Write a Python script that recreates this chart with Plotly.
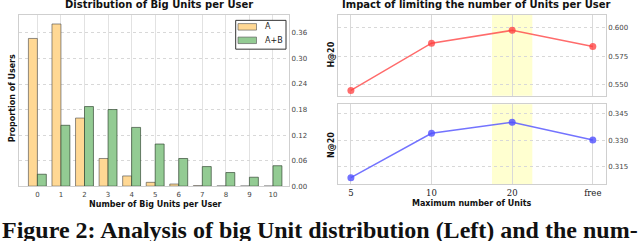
import plotly.graph_objects as go

# ---------------- data ----------------
units = list(range(11))
unit_labels = [str(u) for u in units]
prop_a = [0.347, 0.381, 0.160, 0.065, 0.024, 0.009, 0.005, 0.0012, 0.0005, 0.0003, 0.0002]
prop_ab = [0.028, 0.143, 0.187, 0.180, 0.138, 0.099, 0.065, 0.046, 0.032, 0.021, 0.048]
left_yticks = [0.0, 0.06, 0.12, 0.18, 0.24, 0.30, 0.36]
series_names = ["A", "A+B"]
series_colors = ["#ffd894", "#93cb93"]

limits = ["5", "10", "20", "free"]
h20 = [0.5448, 0.5863, 0.5976, 0.5834]
n20 = [0.3086, 0.3339, 0.3401, 0.3300]
h_ticks = [0.550, 0.575, 0.600]
n_ticks = [0.315, 0.330, 0.345]

W, H = 640, 241
def py(px):
    return 1 - px / H
def pxx(px):
    return px / W

GRID = "#e2e2e2"
FRAME = "#cfcfcf"
TICKF = dict(family="DejaVu Sans", size=7, color="#444")

fig = go.Figure()
fig.add_trace(go.Bar(x=units, y=prop_a, name=series_names[0], xaxis="x", yaxis="y",
                     marker=dict(color=series_colors[0], line=dict(color="rgba(70,70,70,0.75)", width=0.8))))
fig.add_trace(go.Bar(x=units, y=prop_ab, name=series_names[1], xaxis="x", yaxis="y",
                     marker=dict(color=series_colors[1], line=dict(color="rgba(40,60,40,0.8)", width=0.8))))

xi = list(range(len(limits)))
fig.add_trace(go.Scatter(x=xi, y=h20, mode="lines+markers", xaxis="x2", yaxis="y2",
                         line=dict(color="rgba(255,70,70,0.8)", width=1.5),
                         marker=dict(color="rgba(255,60,60,0.75)", size=7)))
fig.add_trace(go.Scatter(x=xi, y=n20, mode="lines+markers", xaxis="x3", yaxis="y3",
                         line=dict(color="rgba(90,90,255,0.85)", width=1.5),
                         marker=dict(color="rgba(80,80,255,0.8)", size=7)))

# highlight bands around "20"
for xr, yr in (("x2", "y2 domain"), ("x3", "y3 domain")):
    fig.add_shape(type="rect", xref=xr, yref=yr, x0=1.75, x1=2.25, y0=0, y1=1,
                  fillcolor="rgba(255,255,150,0.45)", line_width=0, layer="below")

# compact legend box (left panel)
fig.add_shape(type="rect", xref="paper", yref="paper", x0=pxx(235.7), x1=pxx(286), y0=py(50), y1=py(20.7),
              fillcolor="white", line=dict(color="#333", width=1))
for i, (nm, col) in enumerate(zip(series_names, series_colors)):
    yc = 27.3 + i * 13.7
    fig.add_shape(type="rect", xref="paper", yref="paper", x0=pxx(238), x1=pxx(256.5),
                  y0=py(yc + 3.3), y1=py(yc - 3.3), fillcolor=col,
                  line=dict(color="rgba(90,90,90,0.8)", width=0.8))
    fig.add_annotation(text=nm, x=pxx(263), y=py(yc), xref="paper", yref="paper", xanchor="left",
                       yanchor="middle", showarrow=False,
                       font=dict(family="DejaVu Sans", size=8, color="#222"))

axis_common = dict(showline=True, mirror=True, linecolor=FRAME, linewidth=1.2, zeroline=False,
                   ticks="", tickfont=TICKF)

fig.update_layout(
    width=W, height=H, margin=dict(l=0, r=0, t=0, b=0),
    paper_bgcolor="white", plot_bgcolor="white",
    barmode="group", bargap=0.24, bargroupgap=0,
    showlegend=False,
    xaxis=dict(domain=[pxx(19), pxx(289)], range=[-0.78, 10.68], tickvals=units, ticktext=unit_labels,
               showgrid=True, gridcolor=GRID, gridwidth=1, ticklabelstandoff=1, **axis_common),
    yaxis=dict(domain=[py(189.3), py(15)], range=[0, 0.4027], side="right", tickvals=left_yticks,
               tickformat=".2f", showgrid=True, gridcolor="#d8d8d8", griddash="dot", **axis_common),
    xaxis2=dict(domain=[pxx(338), pxx(605.7)], range=[-0.16, 3.16], tickvals=xi, showticklabels=False,
                showgrid=True, gridcolor="#d9d9d9", matches="x3", anchor="y2", **axis_common),
    yaxis2=dict(domain=[py(97.3), py(15)], range=[0.5402, 0.6113], side="right", anchor="x2",
                tickvals=h_ticks, tickformat=".3f", showgrid=True, gridcolor="#d8d8d8", griddash="dot",
                **axis_common),
    xaxis3=dict(domain=[pxx(338), pxx(605.7)], range=[-0.16, 3.16], tickvals=xi, ticktext=limits,
                anchor="y3", showgrid=True, gridcolor="#d9d9d9", ticklabelstandoff=1,
                **{**axis_common, "tickfont": dict(family="DejaVu Serif", size=8.5, color="#222")}),
    yaxis3=dict(domain=[py(187.3), py(106)], range=[0.3049, 0.3504], side="right", anchor="x3",
                tickvals=n_ticks, tickformat=".3f", showgrid=True, gridcolor="#d8d8d8", griddash="dot",
                **axis_common),
)

bold = dict(family="DejaVu Sans", color="#111")
ann = [
    dict(text="<b>Distribution of Big Units per User</b>", x=pxx(159), y=py(5), size=10),
    dict(text="<b>Impact of limiting the number of Units per User</b>", x=pxx(476), y=py(5), size=10),
    dict(text="<b>Number of Big Units per User</b>", x=pxx(155.5), y=py(207.5), size=8),
    dict(text="<b>Maximum number of Units</b>", x=pxx(471.7), y=py(207), size=8),
]
for a in ann:
    fig.add_annotation(text=a["text"], x=a["x"], y=a["y"], xref="paper", yref="paper",
                       xanchor="center", yanchor="middle", showarrow=False,
                       font=dict(size=a["size"], **bold))
for t, x, y in (("<b>Proportion of Users</b>", 12, 100), ("<b>H@20</b>", 331.5, 56), ("<b>N@20</b>", 331.5, 148)):
    fig.add_annotation(text=t, x=pxx(x), y=py(y), xref="paper", yref="paper", textangle=-90,
                       xanchor="center", yanchor="middle", showarrow=False, font=dict(size=8, **bold))

fig.add_annotation(text="<b>Figure 2: Analysis of big Unit distribution (Left) and the num-</b>",
                   x=0, y=py(219), xref="paper", yref="paper", xanchor="left", yanchor="top",
                   showarrow=False, font=dict(family="Liberation Serif", size=24, color="#111"))

fig.write_html("out.html", config={"displayModeBar": False},
               post_script="document.body.style.margin='0';document.body.style.padding='0';"
                           "document.documentElement.style.overflow='hidden';")
